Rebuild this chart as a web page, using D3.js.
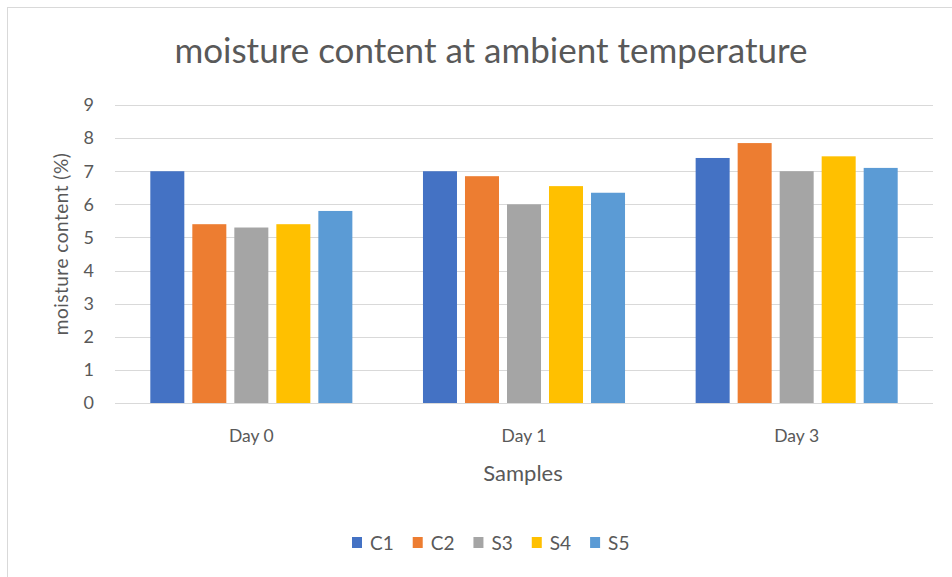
<!DOCTYPE html>
<html>
<head>
<meta charset="utf-8">
<script src="https://cdn.jsdelivr.net/npm/d3@7"></script>
<style>
  body { margin: 0; background: #fff; }
  text { font-family: Lato, "Open Sans", sans-serif; fill: #595959; }
</style>
</head>
<body>
<div id="chart"></div>
<script>
// chart data
const days = ['Day 0', 'Day 1', 'Day 3']
const series = ['C1', 'C2', 'S3', 'S4', 'S5']
const colors = ['#4472C4', '#ED7D31', '#A5A5A5', '#FFC000', '#5B9BD5']
const C1 = [7.0, 7.0, 7.4]
const C2 = [5.4, 6.85, 7.85]
const S3 = [5.3, 6.0, 7.0]
const S4 = [5.4, 6.55, 7.45]
const S5 = [5.8, 6.35, 7.1]
const yTicks = [0, 1, 2, 3, 4, 5, 6, 7, 8, 9]

const values = { C1, C2, S3, S4, S5 }

const width = 952
const height = 577
const plot = { left: 115, right: 933, top: 105, bottom: 403 }

const svg = d3.select('#chart').append('svg')
  .attr('width', width)
  .attr('height', height)

// outer chart border (only top and left edges are in view)
svg.append('rect')
  .attr('x', 7.5).attr('y', 7.5)
  .attr('width', 1000).attr('height', 1000)
  .attr('fill', '#fff')
  .attr('stroke', '#d9d9d9')

let x0 = d3.scaleBand()
  .domain(days)
  .range([plot.left, plot.right])

// cluster takes ~74% of the category width
let groupW = x0.bandwidth() * 0.741
let x1 = d3.scaleBand()
  .domain(series)
  .range([0, groupW])
  .paddingInner(8 / 42)

let y = d3.scaleLinear()
  .domain([0, 9])
  .range([plot.bottom, plot.top])

// gridlines + y labels
let yAxis = svg.append('g')
yAxis.selectAll('line')
  .data(yTicks)
  .enter().append('line')
  .attr('x1', plot.left)
  .attr('x2', plot.right)
  .attr('y1', d => Math.round(y(d)) + 0.5)
  .attr('y2', d => Math.round(y(d)) + 0.5)
  .attr('stroke', '#d9d9d9')
  .attr('stroke-width', 1)

yAxis.selectAll('text')
  .data(yTicks)
  .enter().append('text')
  .attr('x', 94)
  .attr('y', d => y(d))
  .attr('dy', '0.35em')
  .attr('text-anchor', 'end')
  .attr('font-size', 18)
  .text(d => d)

// bars
let groups = svg.append('g').selectAll('g')
  .data(days)
  .enter().append('g')
  .attr('transform', d => `translate(${x0(d) + (x0.bandwidth() - groupW) / 2}, 0)`)

groups.selectAll('rect')
  .data((d, i) => series.map((s, j) => ({ s, v: values[s][i], c: colors[j] })))
  .enter().append('rect')
  .attr('x', d => x1(d.s))
  .attr('width', x1.bandwidth())
  .attr('y', d => y(d.v))
  .attr('height', d => y(0) - y(d.v))
  .attr('fill', d => d.c)

// category labels
svg.append('g').selectAll('text')
  .data(days)
  .enter().append('text')
  .attr('x', d => x0(d) + x0.bandwidth() / 2)
  .attr('y', 442)
  .attr('text-anchor', 'middle')
  .attr('font-size', 17.5)
  .text(d => d)

// title
svg.append('text')
  .attr('x', 491)
  .attr('y', 63)
  .attr('text-anchor', 'middle')
  .attr('font-size', 35)
  .text('moisture content at ambient temperature')

// axis titles
svg.append('text')
  .attr('x', 523)
  .attr('y', 481)
  .attr('text-anchor', 'middle')
  .attr('font-size', 22)
  .text('Samples')

svg.append('text')
  .attr('transform', 'translate(68, 244) rotate(-90)')
  .attr('text-anchor', 'middle')
  .attr('font-size', 19)
  .attr('letter-spacing', 0.5)
  .text('moisture content (%)')

// legend
let legend = svg.append('g').attr('transform', 'translate(0, 543)')
let lx = 352
series.forEach((s, i) => {
  let item = legend.append('g').attr('transform', `translate(${lx}, 0)`)
  item.append('rect')
    .attr('x', 0).attr('y', -6)
    .attr('width', 10).attr('height', 11)
    .attr('fill', colors[i])
  let t = item.append('text')
    .attr('x', 18)
    .attr('dy', '0.35em')
    .attr('font-size', 19)
    .text(s)
  lx += 18 + t.node().getComputedTextLength() + 19
})
</script>
</body>
</html>
